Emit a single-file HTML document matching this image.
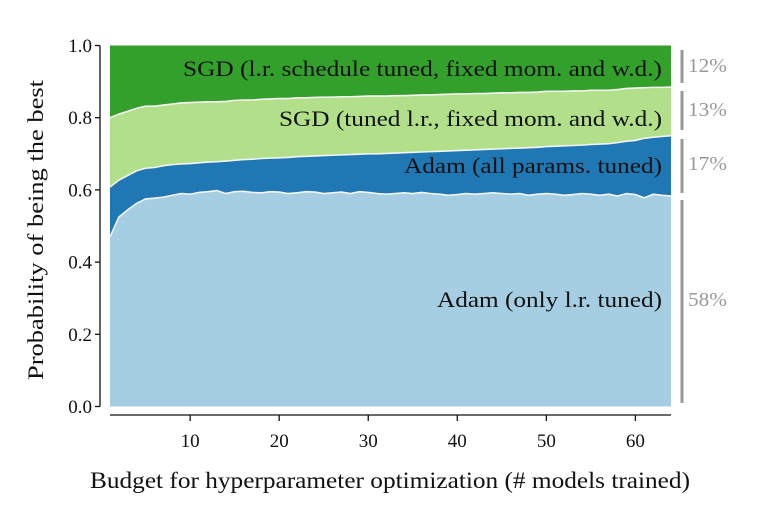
<!DOCTYPE html>
<html><head><meta charset="utf-8"><style>
body{margin:0;background:#fff}
svg{display:block;font-family:"Liberation Serif",serif}
</style></head><body>
<svg id="chart" width="768" height="526" viewBox="0 0 768 526" xmlns="http://www.w3.org/2000/svg">
<g id="areas"></g>
<g id="axes"></g>
</svg>
<script>
const budgets = Array.from({length:64},(_,i)=>i+1);
const adamLr = [.47,.525,.545,.563,.575,.577,.58,.585,.59,.588,
.593,.595,.598,.59,.595,.596,.593,.592,.595,.594,
.59,.592,.595,.594,.59,.592,.594,.59,.595,.593,
.59,.588,.59,.592,.59,.593,.59,.588,.585,.587,
.59,.588,.59,.592,.59,.588,.59,.585,.588,.59,
.588,.585,.587,.59,.588,.585,.588,.583,.59,.587,
.578,.588,.585,.583];
const adamAll = [.138,.102,.095,.09,.085,.085,.087,.085,.082,.085,
.082,.082,.08,.09,.087,.088,.092,.095,.093,.095,
.1,.1,.098,.1,.105,.104,.103,.108,.104,.107,
.11,.113,.112,.111,.114,.112,.116,.119,.123,.122,
.12,.123,.122,.121,.124,.127,.126,.132,.13,.13,
.133,.137,.136,.134,.138,.142,.14,.148,.145,.15,
.165,.158,.163,.167];
const sgdLr = [.192,.183,.178,.173,.172,.17,.168,.168,.169,.169,
.168,.167,.166,.165,.166,.165,.164,.164,.164,.164,
.163,.163,.162,.162,.162,.161,.161,.16,.16,.16,
.16,.159,.159,.158,.158,.158,.157,.157,.157,.157,
.156,.156,.155,.155,.155,.154,.154,.153,.153,.153,
.152,.151,.151,.15,.15,.149,.148,.147,.146,.145,
.14,.138,.136,.135];
const sgdSched = budgets.map((_,i)=>Math.max(0,1-adamLr[i]-adamAll[i]-sgdLr[i]));
const seriesNames = ["adam-only-lr","adam-all-params","sgd-tuned-lr","sgd-lr-schedule"];
const seriesLabels = ["Adam (only l.r. tuned)","Adam (all params. tuned)","SGD (tuned l.r., fixed mom. and w.d.)","SGD (l.r. schedule tuned, fixed mom. and w.d.)"];
const seriesColors = ["#a6cee3","#1f78b4","#b2df8a","#33a02c"];
const percentLabels = ["58%","17%","13%","12%"];
const xTicks = [10,20,30,40,50,60];
const yTicks = [0,0.2,0.4,0.6,0.8,1.0];

const X0=110,X1=671,Y0=406.5,Y1=45.5;
const xs = v => X0+(v-1)/(63)*(X1-X0);
const ys = v => Y0-v*(Y0-Y1);
const NS="http://www.w3.org/2000/svg";
function mk(tag,attrs,parent,text){const e=document.createElementNS(NS,tag);for(const k in attrs)e.setAttribute(k,attrs[k]);if(text!==undefined)e.textContent=text;parent.appendChild(e);return e;}
const areas=document.getElementById('areas'), axes=document.getElementById('axes');
const series=[adamLr,adamAll,sgdLr,sgdSched];
let base=budgets.map(()=>0);
const tops=[];
series.forEach((s,k)=>{
  const top=base.map((b,i)=>b+s[i]);
  let d="M"+budgets.map((b,i)=>xs(b)+","+ys(top[i])).join("L");
  for(let i=budgets.length-1;i>=0;i--) d+="L"+xs(budgets[i])+","+ys(base[i]);
  d+="Z";
  const p=mk('path',{d:d,fill:seriesColors[k]},areas);
  
  
  tops.push(top);
  base=top;
});
for(let k=0;k<3;k++){
  const l=mk('polyline',{points:budgets.map((b,i)=>xs(b)+","+ys(tops[k][i])).join(" "),fill:"none",stroke:"#f4f4f4","stroke-width":1.6},areas);
  
  
}
const labelY=[307,173,126,76];
const labelW=[225,258,383,479];
seriesLabels.forEach((t,k)=>{
  const e=mk('text',{x:662,y:labelY[k],"text-anchor":"end","font-size":22,fill:"#111",textLength:labelW[k],lengthAdjust:"spacingAndGlyphs"},areas,t);
  
  
});
const brk=[[200,403,306],[139,193,170],[91,130,116],[50,83,72]];
brk.forEach((b,k)=>{
  const l=mk('line',{x1:682,x2:682,y1:b[0],y2:b[1],stroke:"#999","stroke-width":3},axes);
  
  
  const t=mk('text',{x:688,y:b[2],"font-size":20,fill:"#999",textLength:39,lengthAdjust:"spacingAndGlyphs"},axes,percentLabels[k]);
  
  
});
const ya=mk('line',{x1:100,x2:100,y1:Y1,y2:Y0,stroke:"#111","stroke-width":1.3},axes);


yTicks.forEach(v=>{
  const tk=mk('line',{x1:95,x2:100,y1:ys(v),y2:ys(v),stroke:"#111","stroke-width":1.3},axes);
  
  
  const t=mk('text',{x:92,y:ys(v)+6.5,"text-anchor":"end","font-size":19,fill:"#111"},axes,v.toFixed(1));
  
  
});
const xa=mk('line',{x1:X0,x2:X1,y1:415,y2:415,stroke:"#111","stroke-width":1.3},axes);


xTicks.forEach(v=>{
  const tk=mk('line',{x1:xs(v),x2:xs(v),y1:415,y2:421,stroke:"#111","stroke-width":1.3},axes);
  
  
  const t=mk('text',{x:xs(v),y:447,"text-anchor":"middle","font-size":19,fill:"#111"},axes,String(v));
  
  
});
const xt=mk('text',{x:390,y:488,"text-anchor":"middle","font-size":23,fill:"#111",textLength:600,lengthAdjust:"spacingAndGlyphs"},axes,"Budget for hyperparameter optimization (# models trained)");


const yt=mk('text',{x:0,y:0,"text-anchor":"middle","font-size":22,fill:"#111",textLength:300,lengthAdjust:"spacingAndGlyphs",transform:"translate(43,230) rotate(-90)"},axes,"Probability of being the best");


</script>
</body></html>
